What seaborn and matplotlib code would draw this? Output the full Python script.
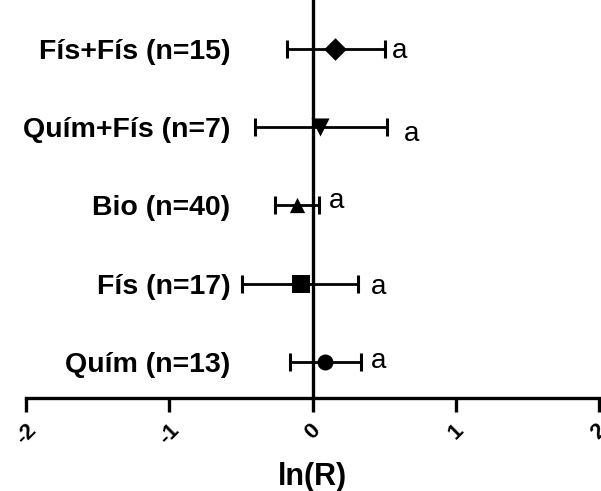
import matplotlib
matplotlib.use("Agg")
import matplotlib.pyplot as plt
import seaborn as sns
import pandas as pd
import numpy as np

# ---- data ----
categories = ["Fís+Fís (n=15)", "Quím+Fís (n=7)", "Bio (n=40)", "Fís (n=17)", "Quím (n=13)"]
effect = [0.16, 0.055, -0.105, -0.08, 0.09]
ci_low = [-0.18, -0.40, -0.26, -0.49, -0.16]
ci_high = [0.505, 0.52, 0.045, 0.32, 0.34]
letters = ["a", "a", "a", "a", "a"]
x_ticks = [-2, -1, 0, 1, 2]
x_label = "ln(R)"

# ---- styles ----
marker_shapes = ["D", "v", "^", "s", "o"]
marker_sizes = [11.5, 13, 11, 13, 11.5]
letter_dx_px = [7, 17, 10, 13, 10]
letter_dy_px = [9, 14, 3, 10, 6]

sns.set_theme(style="white")
plt.rcParams['font.family'] = ['Liberation Sans', 'DejaVu Sans']
plt.rcParams.update({"text.color": "black", "axes.labelcolor": "black",
                     "xtick.color": "black", "ytick.color": "black"})

df = pd.DataFrame(dict(category=categories, effect=effect, lo=ci_low, hi=ci_high))
df["ypos"] = np.arange(len(df))[::-1].astype(float)

fig = plt.figure(figsize=(6.01, 4.91), dpi=100)
ax = fig.add_axes([26 / 601, 1 - 397.5 / 491, (599 - 26) / 601, 397.5 / 491])

px2pt = 72 / 100

for i, row in df.iterrows():
    ax.errorbar(row.effect, row.ypos,
                xerr=[[row.effect - row.lo], [row.hi - row.effect]],
                fmt="none", ecolor="black", elinewidth=2.0,
                capsize=6.5, capthick=2.2, zorder=3)
    sub = df.iloc[[i]]
    sns.scatterplot(data=sub, x="effect", y="ypos", marker=marker_shapes[i],
                    s=marker_sizes[i] ** 2, color="black", edgecolor="black",
                    linewidth=0, ax=ax, zorder=4, legend=False)
    ax.annotate(letters[i], xy=(row.hi, row.ypos),
                xytext=(letter_dx_px[i] * px2pt, -letter_dy_px[i] * px2pt),
                textcoords="offset points", ha="left", va="baseline",
                fontsize=20, color="black")

ax.set_xlim(-2, 2)
ax.set_ylim(-0.454, 4.626)

for s in ["top", "right"]:
    ax.spines[s].set_visible(False)
ax.spines["left"].set_position(("data", 0))
ax.spines["left"].set_linewidth(2.4)
ax.spines["left"].set_color("black")
ax.spines["bottom"].set_linewidth(2.4)
ax.spines["bottom"].set_color("black")

ax.tick_params(axis="y", length=0, pad=59, labelsize=20.5)
ax.tick_params(axis="x", direction="out", length=10, width=2.4, pad=6,
               labelsize=16, bottom=True)

ax.set_xticks(x_ticks)
ax.set_xticklabels([str(t) for t in x_ticks], rotation=45, ha="center",
                   fontsize=16, fontweight="bold")
ax.set_yticks(df["ypos"])
ax.set_yticklabels(df["category"], fontsize=20.5, fontweight="bold")
for lbl in ax.get_yticklabels():
    lbl.set_y(lbl.get_position()[1])

ax.set_xlabel(x_label, fontsize=22, fontweight="bold", labelpad=10)
ax.set_ylabel("")

fig.savefig("out.png", dpi=100)
